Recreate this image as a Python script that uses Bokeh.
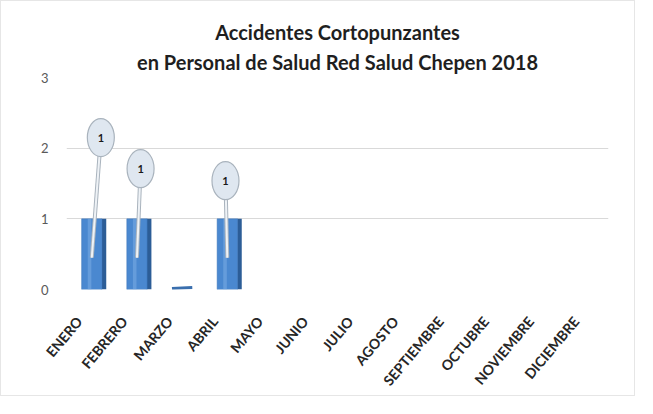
from bokeh.plotting import figure
from bokeh.models import Range1d, Title, ColumnDataSource, FixedTicker
from bokeh.transform import dodge
from bokeh.core.properties import value
from bokeh.embed import file_html
from bokeh.resources import INLINE
import math

# ---- data ----
months = ["ENERO", "FEBRERO", "MARZO", "ABRIL", "MAYO", "JUNIO", "JULIO",
          "AGOSTO", "SEPTIEMBRE", "OCTUBRE", "NOVIEMBRE", "DICIEMBRE"]
accidents = [1, 1, 0, 1, None, None, None, None, None, None, None, None]
y_ticks = [0, 1, 2, 3]
title_line1 = "Accidentes Cortopunzantes"
title_line2 = "en Personal de Salud Red Salud Chepen 2018"
# callout balloon placement (layout only)
callout_height = [2.15, 1.71, None, 1.54]
callout_dx = [0.2, 0.08, None, -0.04]

FONT = "Lato"
BAR_SHIFT = 0.28  # bars sit a little right of their (3D-offset) labels
n = len(months)

p = figure(width=635, height=396,
           x_range=Range1d(-BAR_SHIFT, n - BAR_SHIFT),
           y_range=Range1d(0, 3),
           output_backend="svg", toolbar_location=None,
           min_border_left=65, min_border_right=28, min_border_bottom=102,
           min_border_top=76)
p.styles = {"border": "1px solid #e6e6e6"}
p.outline_line_color = None
p.background_fill_color = "white"

# titles
p.title.text = title_line1
p.title.align = "center"
p.title.text_font = FONT
p.title.text_font_size = "20px"
p.title.text_font_style = "bold"
p.title.text_color = "#1f1f1f"
p.title.standoff = 0
t2 = Title(text=title_line2, align="center", text_font=FONT,
           text_font_size="20px", text_font_style="bold", text_color="#1f1f1f",
           standoff=8)
p.add_layout(t2, "above")

# axes
p.yaxis.ticker = FixedTicker(ticks=y_ticks)
p.yaxis.axis_line_color = None
p.yaxis.major_tick_line_color = None
p.yaxis.minor_tick_line_color = None
p.yaxis.major_label_text_font = FONT
p.yaxis.major_label_text_font_size = "13px"
p.yaxis.major_label_text_color = "#595959"
p.yaxis.major_label_standoff = 12

p.xaxis.ticker = FixedTicker(ticks=list(range(n)))
p.xaxis.major_label_overrides = {i: m for i, m in enumerate(months)}
p.xaxis.axis_line_color = None
p.xaxis.major_tick_line_color = None
p.xaxis.minor_tick_line_color = None
p.xaxis.major_label_orientation = math.radians(50)
p.xaxis.major_label_text_font = FONT
p.xaxis.major_label_text_font_size = "14px"
p.xaxis.major_label_text_font_style = "bold"
p.xaxis.major_label_text_color = "#262626"
p.xaxis.major_label_standoff = 23

p.xgrid.grid_line_color = None
p.ygrid.grid_line_color = "#d9d9d9"
p.ygrid.ticker = FixedTicker(ticks=y_ticks)

# bars (x = month index + shift)
bidx = [i for i, v in enumerate(accidents) if v is not None and v > 0]
src = ColumnDataSource(dict(x=[i + BAR_SHIFT for i in bidx],
                            top=[accidents[i] for i in bidx]))
# side face (3D look)
p.vbar(x=dodge("x", 0.27), top="top", width=0.1, source=src,
       fill_color="#2c5d97", line_color=None)
# front face
p.vbar(x="x", top="top", width=0.45, source=src,
       fill_color="#4a88d0", line_color="#3a74b8", line_width=0.5)
# highlight stripe
p.vbar(x=dodge("x", -0.05), top="top", width=0.08, source=src,
       fill_color="#7fb0e6", fill_alpha=0.5, line_color=None)

# zero-value floor marks
zidx = [i for i, v in enumerate(accidents) if v == 0]
p.rect(x=[i + BAR_SHIFT for i in zidx], y=[accidents[i] + 0.02 for i in zidx],
       width=0.45, height=3, height_units="screen",
       fill_color="#3a6fae", line_color=None, angle=0.05)

# callouts
idx = [i for i, h in enumerate(callout_height) if h is not None]
cx = [i + BAR_SHIFT + callout_dx[i] for i in idx]
bxc = [i + BAR_SHIFT for i in idx]
cy = [callout_height[i] for i in idx]
ct = [str(accidents[i]) for i in idx]
csrc = ColumnDataSource(dict(x=cx, y=cy, t=ct, bx=bxc, y1=[0.45] * len(idx)))
p.segment(x0="x", y0="y", x1="bx", y1="y1", source=csrc,
          line_color="#a9b3bd", line_width=4)
p.segment(x0="x", y0="y", x1="bx", y1="y1", source=csrc,
          line_color="#eef2f6", line_width=2)
p.ellipse(x="x", y="y", width=27, height=38, width_units="screen",
          height_units="screen", source=csrc,
          fill_color="#dfe7f0", line_color="#a9b3bd", line_width=1.2)
p.text(x="x", y="y", text="t", source=csrc, text_align="center",
       text_baseline="middle", text_font=value(FONT), text_font_size="11px",
       text_font_style="bold", text_color="#1a1a1a")

open("out.html", "w").write(file_html(p, INLINE))
